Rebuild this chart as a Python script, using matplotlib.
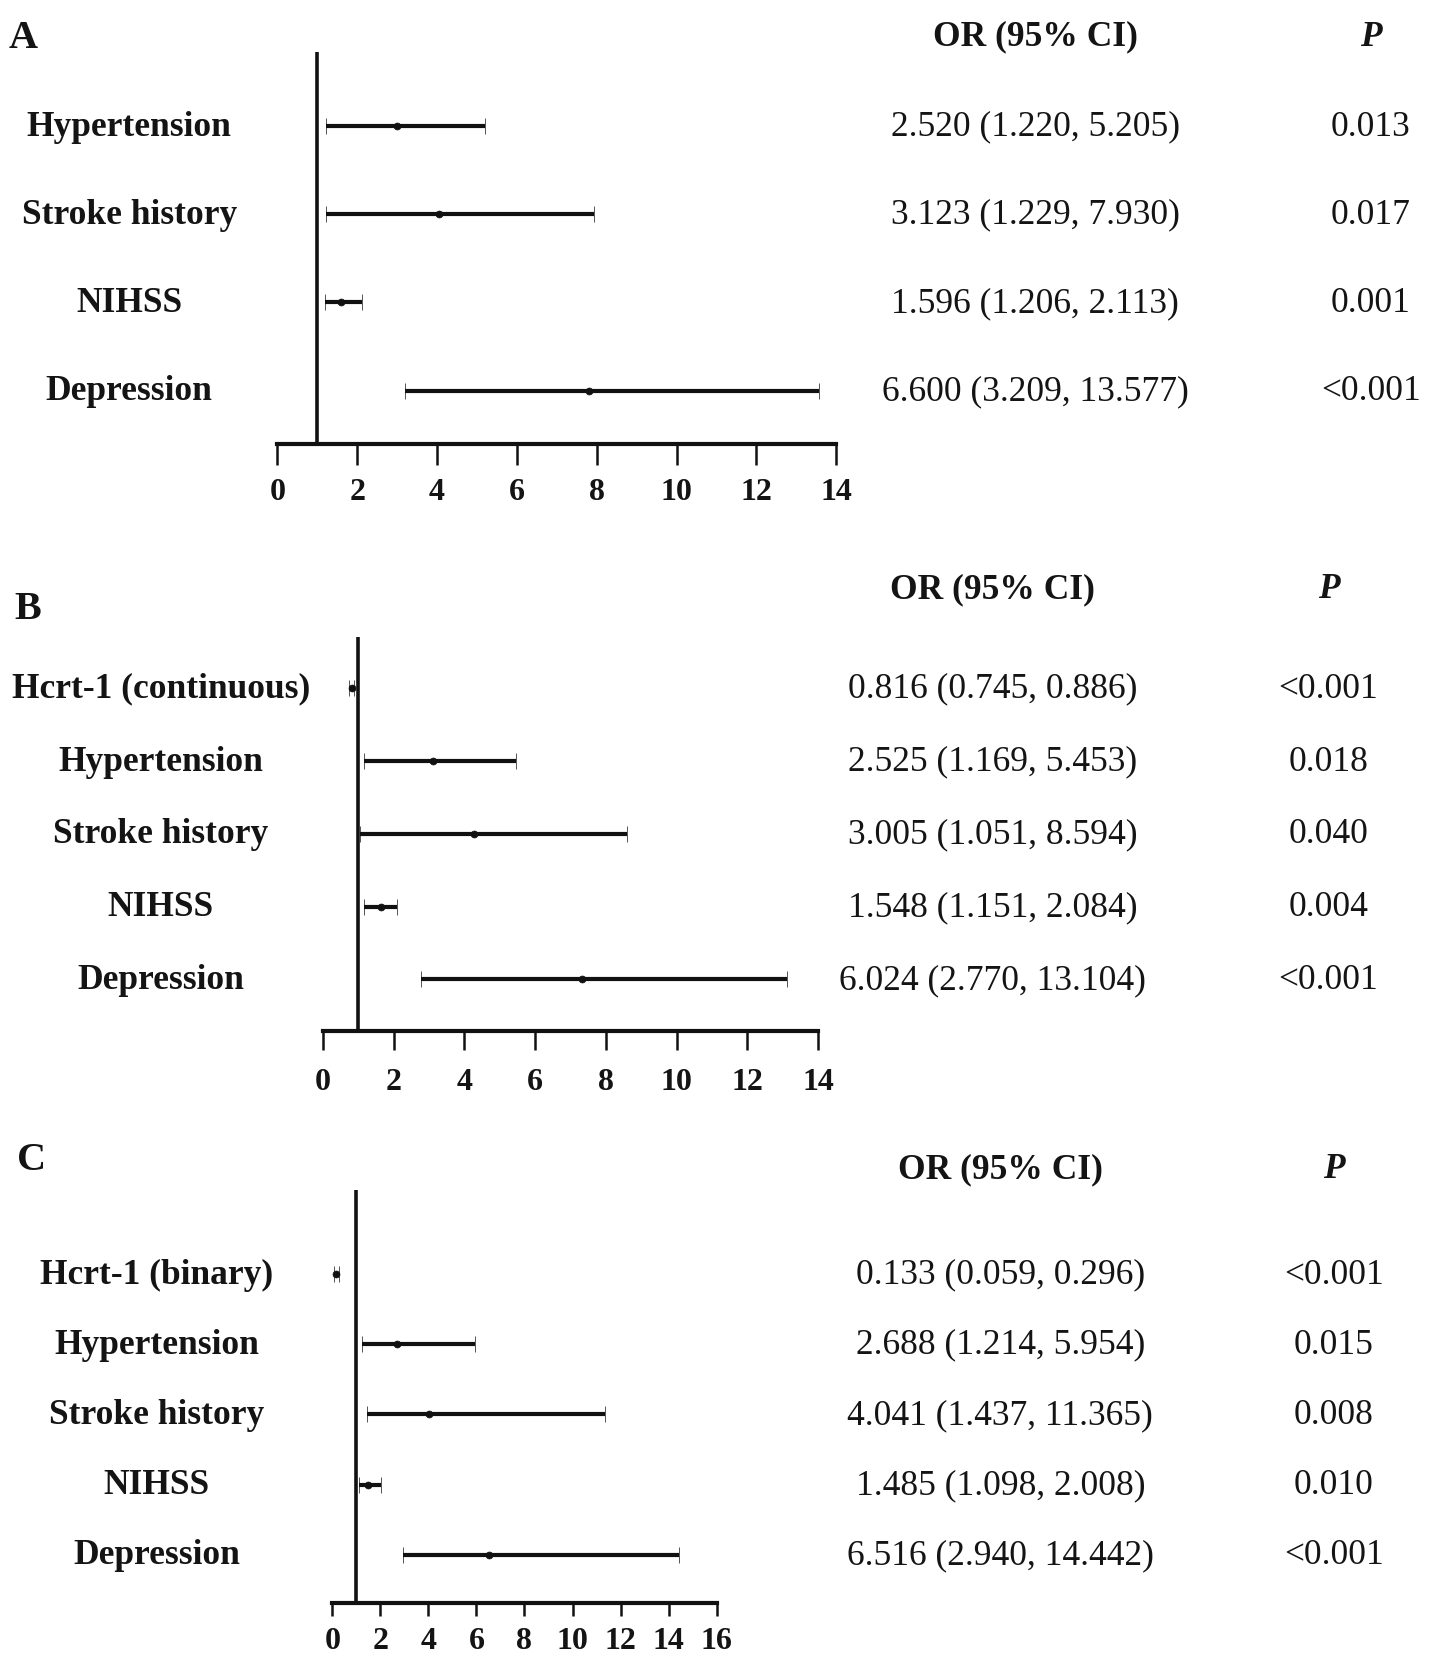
import matplotlib
matplotlib.use("Agg")
import matplotlib.pyplot as plt
from matplotlib.transforms import blended_transform_factory as btf

plt.rcParams['font.family'] = ['Liberation Serif', 'DejaVu Serif']

# ---------------- data ----------------
a_labels = ["Hypertension", "Stroke history", "NIHSS", "Depression"]
a_point = [3.0, 4.05, 1.6, 7.8]
a_lo = [1.220, 1.229, 1.206, 3.209]
a_hi = [5.205, 7.930, 2.113, 13.577]
a_or_text = ["2.520 (1.220, 5.205)", "3.123 (1.229, 7.930)",
             "1.596 (1.206, 2.113)", "6.600 (3.209, 13.577)"]
a_p = ["0.013", "0.017", "0.001", "<0.001"]
a_ticks = [0, 2, 4, 6, 8, 10, 12, 14]

b_labels = ["Hcrt-1 (continuous)", "Hypertension", "Stroke history", "NIHSS", "Depression"]
b_point = [0.816, 3.1, 4.28, 1.65, 7.33]
b_lo = [0.745, 1.169, 1.051, 1.151, 2.770]
b_hi = [0.886, 5.453, 8.594, 2.084, 13.104]
b_or_text = ["0.816 (0.745, 0.886)", "2.525 (1.169, 5.453)", "3.005 (1.051, 8.594)",
             "1.548 (1.151, 2.084)", "6.024 (2.770, 13.104)"]
b_p = ["<0.001", "0.018", "0.040", "0.004", "<0.001"]
b_ticks = [0, 2, 4, 6, 8, 10, 12, 14]

c_labels = ["Hcrt-1 (binary)", "Hypertension", "Stroke history", "NIHSS", "Depression"]
c_point = [0.133, 2.688, 4.041, 1.485, 6.516]
c_lo = [0.059, 1.214, 1.437, 1.098, 2.940]
c_hi = [0.296, 5.954, 11.365, 2.008, 14.442]
c_or_text = ["0.133 (0.059, 0.296)", "2.688 (1.214, 5.954)", "4.041 (1.437, 11.365)",
             "1.485 (1.098, 2.008)", "6.516 (2.940, 14.442)"]
c_p = ["<0.001", "0.015", "0.008", "0.010", "<0.001"]
c_ticks = [0, 2, 4, 6, 8, 10, 12, 14, 16]

# ---------------- layout helpers ----------------
W, H = 1429, 1665
S = W / 1350.0
def fx(x):
    return x * S / W
def fy(y):
    return 1 - y * S / H

fig = plt.figure(figsize=(W / 100, H / 100), dpi=100)
fig.patch.set_facecolor("white")
TXT = "#141414"
LC = "#111111"

def panel(letter, letter_xy, box, ylim, xmax, ticks, labels, point, lo, hi,
          or_text, pvals, label_x, or_x, p_x, header_y, tlen, tpad, tfs):
    x0, x1, y0, y1 = box
    ax = fig.add_axes([fx(x0), fy(y1), fx(x1) - fx(x0), fy(y0) - fy(y1)])
    n = len(labels)
    ys = list(range(n))
    ax.set_xlim(0, xmax)
    ax.set_ylim(n - 1 + ylim[1], -ylim[0])
    for s in ["left", "top", "right"]:
        ax.spines[s].set_visible(False)
    ax.spines["bottom"].set_linewidth(3.0)
    ax.spines["bottom"].set_color(LC)
    ax.set_yticks([])
    ax.set_xticks(ticks)
    ax.set_xticklabels([str(t) for t in ticks], fontsize=tfs, fontweight="bold", color=TXT)
    ax.tick_params(axis="x", direction="out", length=tlen, width=1.8, pad=tpad, colors=LC)
    for t in ax.get_xticklabels():
        t.set_color(TXT)
    ax.axvline(1, color=LC, lw=2.6, zorder=1)
    xerr = [[p - l for p, l in zip(point, lo)], [h - p for p, h in zip(point, hi)]]
    ax.errorbar(point, ys, xerr=xerr, fmt="o", ms=5, color=LC,
                ecolor=LC, elinewidth=3.0, capsize=6, capthick=2.6,
                markeredgecolor=LC, markerfacecolor=LC, markeredgewidth=0.5,
                clip_on=False, zorder=3)
    trl = btf(fig.transFigure, ax.transData)
    for i in range(n):
        ax.text(fx(label_x), ys[i], labels[i], transform=trl, ha="center", va="center",
                fontsize=25.5, fontweight="bold", color=TXT)
        ax.text(fx(or_x), ys[i], or_text[i], transform=trl, ha="center", va="center",
                fontsize=25.5, color=TXT)
        ax.text(fx(p_x), ys[i], pvals[i], transform=trl, ha="center", va="center",
                fontsize=25.5, color=TXT)
    fig.text(fx(or_x), fy(header_y), "OR (95% CI)", ha="center", va="center",
             fontsize=25.5, fontweight="bold", color=TXT)
    fig.text(fx(p_x), fy(header_y), "P", ha="center", va="center",
             fontsize=25.5, fontweight="bold", style="italic", color=TXT)
    fig.text(fx(letter_xy[0]), fy(letter_xy[1]), letter, ha="left", va="center",
             fontsize=29, fontweight="bold", color=TXT)
    return ax

panel("A", (8, 36), (262, 790, 50, 420), (0.84, 0.6), 14, a_ticks,
      a_labels, a_point, a_lo, a_hi, a_or_text, a_p,
      label_x=122, or_x=978, p_x=1295, header_y=35, tlen=15, tpad=9, tfs=23)

panel("B", (14, 576), (305, 773, 603, 975), (0.7, 0.71), 14, b_ticks,
      b_labels, b_point, b_lo, b_hi, b_or_text, b_p,
      label_x=152, or_x=938, p_x=1255, header_y=557, tlen=14, tpad=12, tfs=23)

panel("C", (16, 1096), (314, 677, 1125, 1515), (1.2, 0.68), 16, c_ticks,
      c_labels, c_point, c_lo, c_hi, c_or_text, c_p,
      label_x=148, or_x=945, p_x=1260, header_y=1105, tlen=9, tpad=8, tfs=23)

fig.savefig("out.png", dpi=100, facecolor="white")
